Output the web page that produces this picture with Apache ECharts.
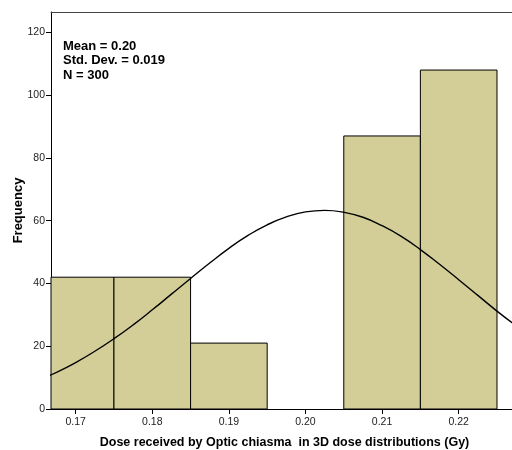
<!DOCTYPE html>
<html>
<head>
<meta charset="utf-8">
<script src="https://cdn.jsdelivr.net/npm/echarts@6/dist/echarts.min.js"></script>
<style>
  html, body { margin: 0; padding: 0; background: #fff; }
  #chart { width: 512px; height: 450px; }
</style>
</head>
<body>
<div id="chart"></div>
<script>
// histogram bins (Gy) and counts
const binStarts = [0.165, 0.175, 0.185, 0.195, 0.205, 0.215];
const binEnds = [0.175, 0.185, 0.195, 0.205, 0.215, 0.225];
const counts = [42, 42, 21, 0, 87, 108];

// normal curve
const curveX = [0.165, 0.1675, 0.17, 0.1725, 0.175, 0.1775, 0.18, 0.1825, 0.185, 0.1875,
  0.19, 0.1925, 0.195, 0.1975, 0.2, 0.2025, 0.205, 0.2075, 0.21, 0.2125,
  0.215, 0.2175, 0.22, 0.2225, 0.225, 0.2275];
const curveY = [9.1, 11.7, 14.8, 18.4, 22.4, 26.8, 31.6, 36.6, 41.6, 46.5,
  51.2, 55.3, 58.7, 61.2, 62.8, 63.3, 62.7, 61.1, 58.4, 55.0,
  50.8, 46.1, 41.2, 36.2, 31.2, 26.5];

const xTicks = [0.17, 0.18, 0.19, 0.2, 0.21, 0.22];
const yTicks = [0, 20, 40, 60, 80, 100, 120];
const statsLines = ["Mean = 0.20", "Std. Dev. = 0.019", "N = 300"];

const chart = echarts.init(document.getElementById("chart"));

const barData = binStarts.map((s, i) => [s, binEnds[i], counts[i]]);
const curveData = curveX.map((x, i) => [x, curveY[i]]);

const xMin = 0.16678, xMax = 0.22696;

const option = {
  animation: false,
  textStyle: { fontFamily: "Liberation Sans, Arial, sans-serif" },
  grid: { left: 51, right: 0, top: 12, bottom: 41, containLabel: false, outerBoundsMode: "none" },
  graphic: [{
    type: "text",
    left: 63,
    top: 39,
    style: {
      text: statsLines.join("\n"),
      font: "bold 13px Liberation Sans, Arial, sans-serif",
      lineHeight: 14.5,
      fill: "#000"
    }
  }],
  xAxis: [{
    type: "value",
    min: xMin,
    max: xMax,
    name: "Dose received by Optic chiasma  in 3D dose distributions (Gy)",
    nameLocation: "middle",
    nameGap: 27,
    nameTextStyle: { fontSize: 12.5, fontWeight: "bold", color: "#000", padding: [0, 0, 0, 6] },
    splitLine: { show: false },
    axisLine: { lineStyle: { color: "#000", width: 1 } },
    axisTick: { length: 5, lineStyle: { color: "#000" }, customValues: xTicks },
    axisLabel: { fontSize: 10.5, color: "#222", margin: 8, customValues: xTicks,
      formatter: v => v.toFixed(2) }
  }, {
    type: "value",
    position: "top",
    min: xMin,
    max: xMax,
    splitLine: { show: false },
    axisLine: { show: true, lineStyle: { color: "#444", width: 1 } },
    axisTick: { show: false },
    axisLabel: { show: false }
  }],
  yAxis: {
    type: "value",
    min: 0,
    max: 126.5,
    name: "Frequency",
    nameLocation: "middle",
    nameGap: 26,
    nameMoveOverlap: false,
    nameTextStyle: { fontSize: 13, fontWeight: "bold", color: "#000" },
    splitLine: { show: false },
    axisLine: { show: true, lineStyle: { color: "#000", width: 1 } },
    axisTick: { show: true, length: 5, lineStyle: { color: "#000" }, customValues: yTicks },
    axisLabel: { fontSize: 10.5, color: "#222", margin: 6, customValues: yTicks }
  },
  series: [
    {
      type: "custom",
      data: barData,
      encode: { x: [0, 1], y: 2 },
      renderItem: function (params, api) {
        if (api.value(2) <= 0) return;
        const p0 = api.coord([api.value(0), 0]);
        const p1 = api.coord([api.value(1), api.value(2)]);
        const rect = echarts.graphic.clipRectByRect(
          { x: p0[0], y: p1[1], width: p1[0] - p0[0], height: p0[1] - p1[1] },
          { x: params.coordSys.x, y: params.coordSys.y, width: params.coordSys.width, height: params.coordSys.height }
        );
        if (!rect) return;
        return {
          type: "rect",
          shape: rect,
          style: { fill: "#d3ce98", stroke: "#000", lineWidth: 1 }
        };
      }
    },
    {
      type: "line",
      data: curveData,
      smooth: true,
      showSymbol: false,
      clip: true,
      lineStyle: { color: "#000", width: 1.4 },
      z: 3
    }
  ]
};

chart.setOption(option);
</script>
</body>
</html>
